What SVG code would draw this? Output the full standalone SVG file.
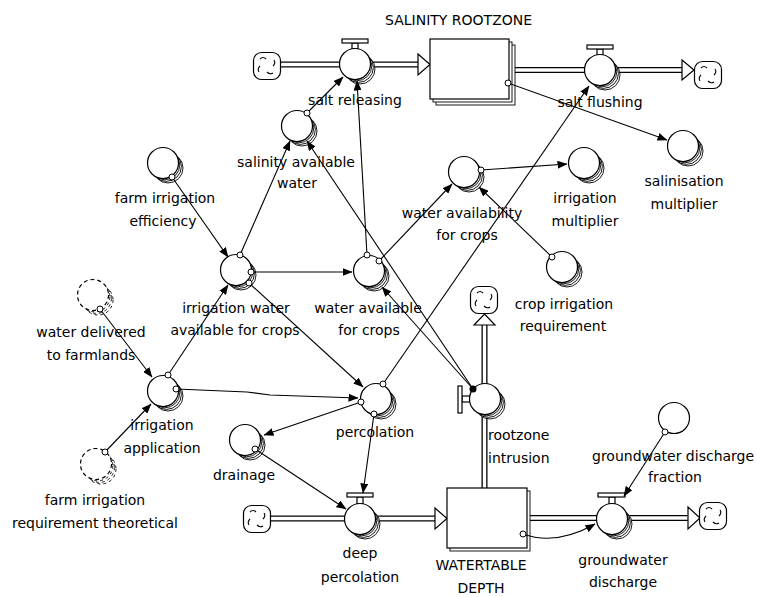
<svg xmlns="http://www.w3.org/2000/svg" width="757" height="597" viewBox="0 0 757 597">
<style>
text{font-family:"DejaVu Sans","Liberation Sans",sans-serif;font-size:14px;fill:#000}
.c{fill:#fff;stroke:#000;stroke-width:1.2}
.s{fill:#fff;stroke:#000;stroke-width:0.9}
.g{fill:#fff;stroke:#000;stroke-width:1.2;stroke-dasharray:4 3}
.gs{fill:#fff;stroke:#000;stroke-width:0.9;stroke-dasharray:3 3}
.lk{fill:none;stroke:#000;stroke-width:1.1;marker-end:url(#ah)}
.o{fill:#fff;stroke:#000;stroke-width:1}
.po{fill:none;stroke:#000;stroke-width:6}
.pi{fill:none;stroke:#fff;stroke-width:3.4}
.tri{fill:#fff;stroke:#000;stroke-width:1.2}
.h{fill:#fff;stroke:#000;stroke-width:1.2}
</style>
<defs>
<marker id="ah" markerWidth="10" markerHeight="8" refX="9.5" refY="4" orient="auto" markerUnits="userSpaceOnUse"><path d="M0,0 L10,4 L0,8 z" fill="#000"/></marker>
<g id="conv"><circle cx="5" cy="5" r="15" class="s"/><circle cx="3.4" cy="3.4" r="15" class="s"/><circle cx="1.8" cy="1.8" r="15" class="s"/><circle cx="0" cy="0" r="15.5" class="c"/></g>
<g id="ghost"><circle cx="5" cy="5" r="15" class="gs"/><circle cx="3.4" cy="3.4" r="15" class="gs"/><circle cx="1.8" cy="1.8" r="15" class="gs"/><circle cx="0" cy="0" r="15.5" class="g"/></g>
<g id="cloud"><rect x="-13.5" y="-13.5" width="27" height="27" rx="8" class="c"/><path d="M-7,-7 q3,-3 6,0 M7,-6 q2,3 -1,6 M6,7 q-3,2 -6,-1 M-8,6 q-2,-3 1,-6" fill="none" stroke="#000" stroke-width="1.1"/></g>
</defs>
<rect width="757" height="597" fill="#fff"/>

<g id="flows">
<path class="po" d="M280,64.5 H419"/><path class="pi" d="M280,64.5 H419"/>
<polygon class="tri" points="418,54 430,64.5 418,75"/>
<path class="po" d="M505,70 H683"/><path class="pi" d="M505,70 H683"/>
<polygon class="tri" points="682,60 694,70 682,80"/>
<path class="po" d="M270,518.5 H436"/><path class="pi" d="M270,518.5 H436"/>
<polygon class="tri" points="435,508 447,518.5 435,529"/>
<path class="po" d="M520,518 H689"/><path class="pi" d="M520,518 H689"/>
<polygon class="tri" points="688,507 700,518 688,529"/>
<path class="po" d="M484.5,490 V324"/><path class="pi" d="M484.5,490 V324"/>
<polygon class="tri" points="474,325 484.5,314 495,325"/>
</g>

<g id="cloud-1"><use href="#cloud" x="267" y="66"/></g>
<g id="cloud-2"><use href="#cloud" x="708" y="75"/></g>
<g id="cloud-3"><use href="#cloud" x="257" y="519"/></g>
<g id="cloud-4"><use href="#cloud" x="713" y="516"/></g>
<g id="cloud-5"><use href="#cloud" x="484" y="300"/></g>

<g id="salinity-rootzone">
<rect x="436" y="45" width="79" height="60" class="s"/>
<rect x="433" y="42" width="79" height="60" class="s"/>
<rect x="430" y="39" width="79" height="60" class="c"/>
<text x="385" y="25">SALINITY ROOTZONE</text>
</g>
<g id="watertable-depth">
<rect x="450" y="491" width="80" height="60" class="s"/>
<rect x="447" y="488" width="80" height="60" class="c"/>
<text x="481" y="570" text-anchor="middle">WATERTABLE</text>
<text x="481" y="593" text-anchor="middle">DEPTH</text>
</g>

<g id="salt-releasing">
<rect x="352" y="43" width="6" height="6" class="h"/><rect x="342" y="39" width="26" height="4" class="h"/>
<use href="#conv" x="355" y="64"/>
<text x="355" y="105" text-anchor="middle">salt releasing</text>
</g>
<g id="salt-flushing">
<rect x="597" y="49" width="6" height="7" class="h"/><rect x="587" y="45" width="26" height="4" class="h"/>
<use href="#conv" x="600" y="70"/>
<text x="600" y="107" text-anchor="middle">salt flushing</text>
</g>
<g id="deep-percolation">
<rect x="357" y="497" width="6" height="7" class="h"/><rect x="347" y="493" width="26" height="4" class="h"/>
<use href="#conv" x="360" y="519"/>
<text x="360" y="558" text-anchor="middle">deep</text>
<text x="360" y="582" text-anchor="middle">percolation</text>
</g>
<g id="groundwater-discharge">
<rect x="609" y="497" width="6" height="7" class="h"/><rect x="598" y="493" width="27" height="4" class="h"/>
<use href="#conv" x="612" y="519"/>
<text x="623" y="565" text-anchor="middle">groundwater</text>
<text x="623" y="587" text-anchor="middle">discharge</text>
</g>
<g id="rootzone-intrusion">
<rect x="462" y="396" width="8" height="6" class="h"/><rect x="458" y="386" width="4" height="27" class="h"/>
<use href="#conv" x="485" y="399"/>
<text x="488" y="440">rootzone</text>
<text x="488" y="463">intrusion</text>
</g>

<g id="salinity-available-water">
<use href="#conv" x="297" y="126"/>
<text x="296" y="167" text-anchor="middle">salinity available</text>
<text x="297" y="188" text-anchor="middle">water</text>
</g>
<g id="farm-irrigation-efficiency">
<use href="#conv" x="163" y="163"/>
<text x="165" y="203" text-anchor="middle">farm irrigation</text>
<text x="163" y="226" text-anchor="middle">efficiency</text>
</g>
<g id="irrigation-water-available">
<use href="#conv" x="236" y="270"/>
<text x="236" y="313" text-anchor="middle">irrigation water</text>
<text x="235" y="335" text-anchor="middle">available for crops</text>
</g>
<g id="water-available-for-crops">
<use href="#conv" x="369" y="271"/>
<text x="368" y="313" text-anchor="middle">water available</text>
<text x="369" y="335" text-anchor="middle">for crops</text>
</g>
<g id="water-availability-for-crops">
<use href="#conv" x="464" y="172"/>
<text x="462" y="218" text-anchor="middle">water availability</text>
<text x="467" y="240" text-anchor="middle">for crops</text>
</g>
<g id="irrigation-multiplier">
<use href="#conv" x="584" y="163"/>
<text x="585" y="203" text-anchor="middle">irrigation</text>
<text x="585" y="226" text-anchor="middle">multiplier</text>
</g>
<g id="salinisation-multiplier">
<use href="#conv" x="683" y="146"/>
<text x="684" y="186" text-anchor="middle">salinisation</text>
<text x="684" y="209" text-anchor="middle">multiplier</text>
</g>
<g id="crop-irrigation-requirement">
<use href="#conv" x="562" y="267"/>
<text x="564" y="309" text-anchor="middle">crop irrigation</text>
<text x="563" y="331" text-anchor="middle">requirement</text>
</g>
<g id="water-delivered">
<use href="#ghost" x="93" y="295"/>
<text x="91" y="337" text-anchor="middle">water delivered</text>
<text x="91" y="360" text-anchor="middle">to farmlands</text>
</g>
<g id="irrigation-application">
<use href="#conv" x="163" y="391"/>
<text x="162" y="430" text-anchor="middle">irrigation</text>
<text x="162" y="453" text-anchor="middle">application</text>
</g>
<g id="farm-irrigation-requirement-theoretical">
<use href="#ghost" x="96" y="464"/>
<text x="95" y="505" text-anchor="middle">farm irrigation</text>
<text x="95" y="528" text-anchor="middle">requirement theoretical</text>
</g>
<g id="percolation">
<use href="#conv" x="376" y="399"/>
<text x="375" y="437" text-anchor="middle">percolation</text>
</g>
<g id="drainage">
<use href="#conv" x="245" y="440"/>
<text x="244" y="480" text-anchor="middle">drainage</text>
</g>
<g id="groundwater-discharge-fraction">
<circle cx="674" cy="418" r="15.5" class="c"/>
<text x="592" y="461">groundwater discharge</text>
<text x="675" y="482" text-anchor="middle">fraction</text>
</g>

<g id="connectors">
<path class="lk" d="M172,177 L228,257"/><circle class="o" cx="172" cy="177" r="3"/>
<path class="lk" d="M100,309 L152,377"/><circle class="o" cx="100" cy="309" r="3"/>
<path class="lk" d="M105,452 L151,404"/><circle class="o" cx="105" cy="452" r="3"/>
<path class="lk" d="M168,375 L228,285"/><circle class="o" cx="168" cy="375" r="3"/>
<path class="lk" d="M176,389 L247,392 L270,395 L358,398"/><circle class="o" cx="176" cy="389" r="3"/>
<path class="lk" d="M240,255 L290,141"/><circle class="o" cx="240" cy="255" r="3"/>
<path class="lk" d="M251,272 L352,272"/><circle class="o" cx="251" cy="272" r="3"/>
<path class="lk" d="M249,283 L363,387"/><circle class="o" cx="249" cy="283" r="3"/>
<path class="lk" d="M307,113 L343,77"/><circle class="o" cx="307" cy="113" r="3"/>
<path class="lk" d="M367,255 L357,81"/><circle class="o" cx="367" cy="255" r="3"/>
<path class="lk" d="M379,261 L452,184"/><circle class="o" cx="379" cy="261" r="3"/>
<path class="lk" d="M473,389 L307,141"/>
<path class="lk" d="M473,389 L382,287"/><circle cx="473" cy="389" r="3.5" fill="#000"/>
<path class="lk" d="M481,170 L567,164"/><circle class="o" cx="481" cy="170" r="3"/>
<path class="lk" d="M552,257 L479,187"/><circle class="o" cx="552" cy="257" r="3"/>
<path class="lk" d="M508,83 L667,140"/><circle class="o" cx="508" cy="83" r="3"/>
<path class="lk" d="M383,384 L589,86"/><circle class="o" cx="383" cy="384" r="3"/>
<path class="lk" d="M361,402 L264,435"/><circle class="o" cx="361" cy="402" r="3"/>
<path class="lk" d="M374,414 L363,493"/><circle class="o" cx="374" cy="414" r="3"/>
<path class="lk" d="M255,449 L346,509"/><circle class="o" cx="255" cy="449" r="3"/>
<path class="lk" d="M523,534 Q556,546 595,524"/><circle class="o" cx="523" cy="534" r="3"/>
<path class="lk" d="M665,432 L624,496"/><circle class="o" cx="665" cy="432" r="3"/>
</g>
</svg>
